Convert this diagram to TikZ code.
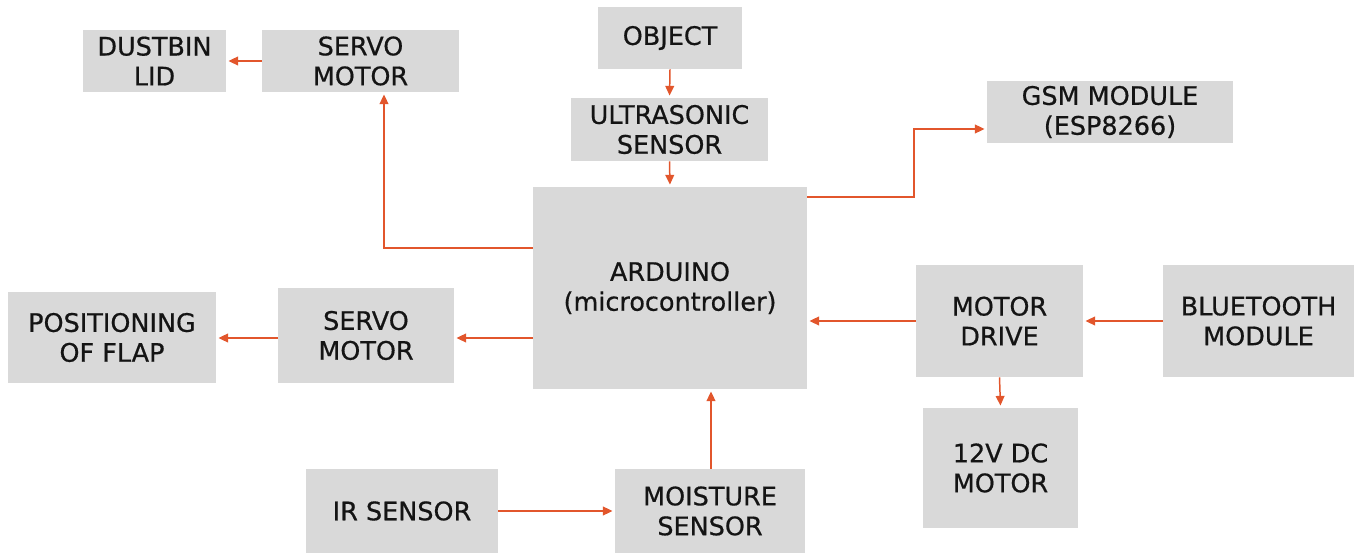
\documentclass[tikz,border=0pt]{standalone}
\usepackage{fontspec}
\setmainfont{DejaVu Sans}
\newfontfamily\medfont{DejaVu Sans}[UprightFeatures={FakeBold=0.6}]
\usetikzlibrary{arrows.meta}
\definecolor{boxgray}{HTML}{D9D9D9}
\definecolor{arrred}{HTML}{E2562C}
\definecolor{txt}{HTML}{141414}
\begin{document}
\begin{tikzpicture}[x=0.02cm,y=-0.02cm,
  blk/.style={fill=boxgray,draw=none,inner sep=0pt,align=center,text=txt,
    font=\medfont\fontsize{14.5}{17}\selectfont},
  arr/.style={draw=arrred,line width=0.85pt,-{Triangle[length=5.5pt,width=5pt]},shorten >=1.2pt}]
\useasboundingbox (0,0) rectangle (1358,553);
\node[blk,minimum width=2.86cm,minimum height=1.24cm] (dust) at (154.5,61) {DUSTBIN\\LID};
\node[blk,minimum width=3.94cm,minimum height=1.24cm] (servoA) at (360.5,61) {SERVO\\MOTOR};
\node[blk,minimum width=2.88cm,minimum height=1.24cm] (obj) at (670,38) {OBJECT};
\node[blk,minimum width=3.94cm,minimum height=1.26cm] (ultra) at (669.5,129.5) {ULTRASONIC\\SENSOR};
\node[blk,minimum width=4.92cm,minimum height=1.24cm] (gsm) at (1110,112) {GSM MODULE\\(ESP8266)};
\node[blk,minimum width=5.48cm,minimum height=4.04cm] (ard) at (670,288) {ARDUINO\\(microcontroller)};
\node[blk,minimum width=4.16cm,minimum height=1.82cm] (pos) at (112,337.5) {POSITIONING\\OF FLAP};
\node[blk,minimum width=3.52cm,minimum height=1.9cm] (servoB) at (366,335.5) {SERVO\\MOTOR};
\node[blk,minimum width=3.34cm,minimum height=2.24cm] (mdrive) at (999.5,321) {MOTOR\\DRIVE};
\node[blk,minimum width=3.82cm,minimum height=2.24cm] (bt) at (1258.5,321) {BLUETOOTH\\MODULE};
\node[blk,minimum width=3.1cm,minimum height=2.4cm] (dc) at (1000.5,468) {12V DC\\MOTOR};
\node[blk,minimum width=3.84cm,minimum height=1.68cm] (ir) at (402,511) {IR SENSOR};
\node[blk,minimum width=3.8cm,minimum height=1.68cm] (moist) at (710,511) {MOISTURE\\SENSOR};

\draw[arr] (servoA.west) -- (dust.east);
\draw[arr] (ard.west |- 0,248) -| ([xshift=0.47cm]servoA.south);
\draw[arr] (ard.west |- 0,338) -- (servoB.east |- 0,338);
\draw[arr] (servoB.west |- 0,338) -- (pos.east |- 0,338);
\draw[arr] (obj.south) -- (ultra.north);
\draw[arr] (ultra.south) -- (ard.north);
\draw[arr] (ard.east |- 0,197) -- (914,197) |- (gsm.west |- 0,129);
\draw[arr] (mdrive.west) -- (ard.east |- mdrive.west);
\draw[arr] (bt.west) -- (mdrive.east);
\draw[arr] (mdrive.south) -- (dc.north);
\draw[arr] (ir.east) -- (moist.west);
\draw[arr] (moist.north -| 711,0) -- (ard.south -| 711,0);
\end{tikzpicture}
\end{document}
